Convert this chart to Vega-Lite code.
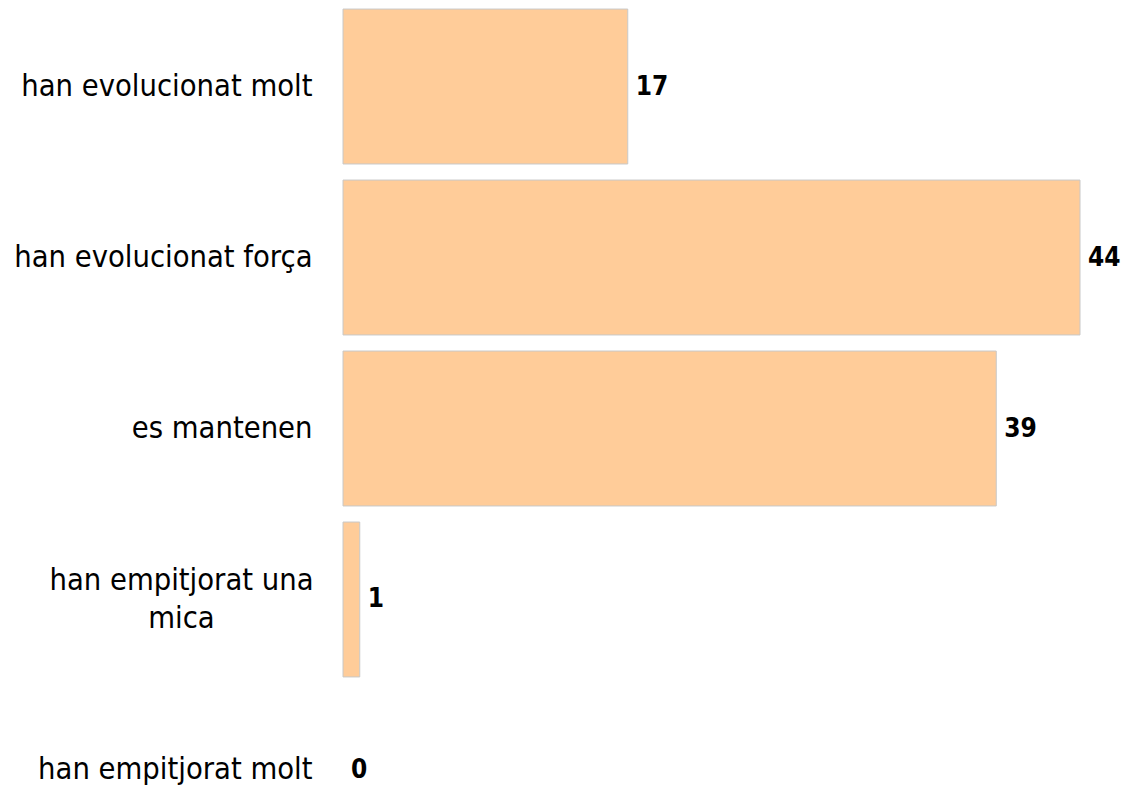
{
  "$schema": "https://vega.github.io/schema/vega-lite/v6.json",
  "autosize": "none",
  "padding": {"left": 343, "top": 0, "right": 42, "bottom": 0},
  "width": 737,
  "height": 857,
  "background": "white",
  "config": {"view": {"stroke": null}},
  "data": {"values": [
    {"categoria": "han evolucionat molt", "valor": 17},
    {"categoria": "han evolucionat força", "valor": 44},
    {"categoria": "es mantenen", "valor": 39},
    {"categoria": "han empitjorat una mica", "valor": 1},
    {"categoria": "han empitjorat molt", "valor": 0}
  ]},
  "encoding": {
    "y": {
      "field": "categoria", "type": "nominal", "sort": null,
      "scale": {"paddingInner": 0.094, "paddingOuter": 0.053},
      "axis": {
        "title": null, "domain": false, "ticks": false,
        "labelFont": "DejaVu Sans Condensed, Liberation Sans, sans-serif", "labelFontSize": 30.6, "labelColor": "#000000",
        "labelLimit": 400,
        "labelExpr": "datum.value == 'han empitjorat una mica' ? ['han empitjorat una', 'mica'] : datum.value",
        "labelAlign": {"condition": {"test": "datum.value == 'han empitjorat una mica'", "value": "center"}, "value": "right"},
        "labelPadding": {"condition": {"test": "datum.value == 'han empitjorat una mica'", "value": 162}, "value": 31},
        "labelOffset": {"condition": {"test": "datum.value == 'han empitjorat una mica'", "value": -18}, "value": 0},
        "labelLineHeight": 38
      }
    },
    "x": {
      "field": "valor", "type": "quantitative",
      "scale": {"domain": [0, 44], "nice": false},
      "axis": null
    }
  },
  "layer": [
    {"mark": {"type": "bar", "color": "#FFCC99", "stroke": "#C8C8C8", "strokeWidth": 1},
     "encoding": {"strokeOpacity": {"condition": {"test": "datum.valor == 0", "value": 0}, "value": 1}}},
    {"mark": {"type": "text", "align": "left", "baseline": "middle", "dx": 8, "font": "DejaVu Sans Condensed, Liberation Sans, sans-serif", "fontWeight": "bold", "fontSize": 26, "color": "#000000"},
     "encoding": {"text": {"field": "valor", "type": "quantitative"}}}
  ]
}
